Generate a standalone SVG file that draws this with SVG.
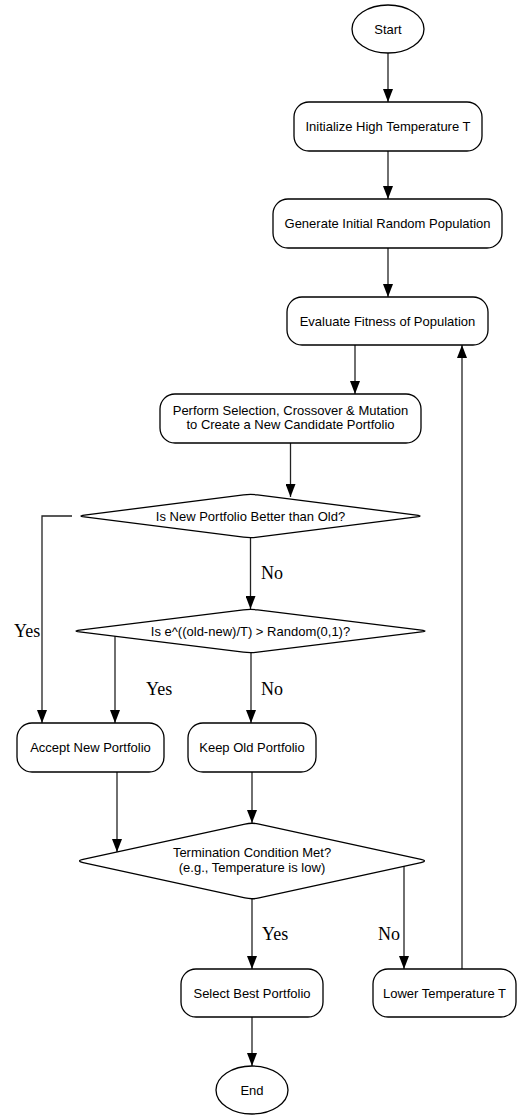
<svg xmlns="http://www.w3.org/2000/svg" width="522" height="1120" viewBox="0 0 522 1120">
<style>
.node{fill:#fff;stroke:#000;stroke-width:1.3}
.t{font-family:"Liberation Sans",Arial,sans-serif;font-size:13px;fill:#000;text-anchor:middle}
.e{fill:none;stroke:#222;stroke-width:1.3;marker-end:url(#ah)}
.el{font-family:"Liberation Serif","Times New Roman",serif;font-size:18px;fill:#000}
</style>
<defs>
<marker id="ah" markerUnits="userSpaceOnUse" viewBox="0 0 13 10" refX="13" refY="5" markerWidth="13" markerHeight="10" orient="auto">
<path d="M0,0 L13,5 L0,10 Z" fill="#000"/>
</marker>
</defs>
<rect width="522" height="1120" fill="#fff"/>
<g id="connectors">
<path class="e" d="M388,53 V102"/>
<path class="e" d="M388,151 V199"/>
<path class="e" d="M388,248 V297"/>
<path class="e" d="M355,345 V394"/>
<path class="e" d="M290.5,443 V497"/>
<path class="e" d="M72,516 H42 V723"/>
<path class="e" d="M250.5,538 V609"/>
<path class="e" d="M115,636 V723"/>
<path class="e" d="M251,653 V723"/>
<path class="e" d="M117,772 V852"/>
<path class="e" d="M252,772 V823"/>
<path class="e" d="M252,899 V969"/>
<path class="e" d="M404,865 V969"/>
<path class="e" d="M462,969 V345"/>
<path class="e" d="M252,1017 V1066"/>
<text class="el" x="261" y="579">No</text>
<text class="el" x="14" y="637">Yes</text>
<text class="el" x="146" y="695">Yes</text>
<text class="el" x="261" y="695">No</text>
<text class="el" x="262" y="940">Yes</text>
<text class="el" x="378" y="940">No</text>
</g>
<g id="start"><ellipse class="node" cx="388" cy="29" rx="36" ry="24"/><text class="t" x="388" y="33.5">Start</text></g>
<g id="init"><rect class="node" x="294" y="102" width="188" height="49" rx="15"/><text class="t" x="388" y="131">Initialize High Temperature T</text></g>
<g id="generate"><rect class="node" x="273" y="199" width="229" height="49" rx="15"/><text class="t" x="387.5" y="228">Generate Initial Random Population</text></g>
<g id="evaluate"><rect class="node" x="287" y="297" width="201" height="48" rx="15"/><text class="t" x="387.5" y="325.5">Evaluate Fitness of Population</text></g>
<g id="perform"><rect class="node" x="160" y="394" width="261" height="49" rx="15"/><text class="t" x="290.5" y="415">Perform Selection, Crossover &amp; Mutation</text><text class="t" x="290.5" y="429">to Create a New Candidate Portfolio</text></g>
<g id="better"><path class="node" d="M84.42,515.12 L243.58,494.88 Q250.5,494 257.42,494.88 L416.58,515.12 Q423.5,516 416.58,516.88 L257.42,537.12 Q250.5,538 243.58,537.12 L84.42,516.88 Q77.5,516 84.42,515.12 Z"/><text class="t" x="250.5" y="520.5">Is New Portfolio Better than Old?</text></g>
<g id="prob"><path class="node" d="M79.62,630.12 L243.38,609.88 Q250.5,609 257.62,609.88 L421.38,630.12 Q428.5,631 421.38,631.88 L257.62,652.12 Q250.5,653 243.38,652.12 L79.62,631.88 Q72.5,631 79.62,630.12 Z"/><text class="t" x="250.5" y="635.5">Is e^((old-new)/T) &gt; Random(0,1)?</text></g>
<g id="accept"><rect class="node" x="17" y="723" width="147" height="49" rx="15"/><text class="t" x="90.5" y="752">Accept New Portfolio</text></g>
<g id="keep"><rect class="node" x="188" y="723" width="128" height="49" rx="15"/><text class="t" x="252" y="752">Keep Old Portfolio</text></g>
<g id="termination"><path class="node" d="M83.04,859.46 L244.96,824.04 Q252,822.5 259.04,824.04 L420.96,859.46 Q428,861 420.96,862.54 L259.04,897.96 Q252,899.5 244.96,897.96 L83.04,862.54 Q76,861 83.04,859.46 Z"/><text class="t" x="252" y="857">Termination Condition Met?</text><text class="t" x="252" y="872">(e.g., Temperature is low)</text></g>
<g id="select"><rect class="node" x="181" y="969" width="142" height="48" rx="15"/><text class="t" x="252" y="997.5">Select Best Portfolio</text></g>
<g id="lower"><rect class="node" x="373" y="969" width="143" height="48" rx="15"/><text class="t" x="444.5" y="997.5">Lower Temperature T</text></g>
<g id="end"><ellipse class="node" cx="252" cy="1090" rx="36" ry="24"/><text class="t" x="252" y="1094.5">End</text></g>
</svg>
